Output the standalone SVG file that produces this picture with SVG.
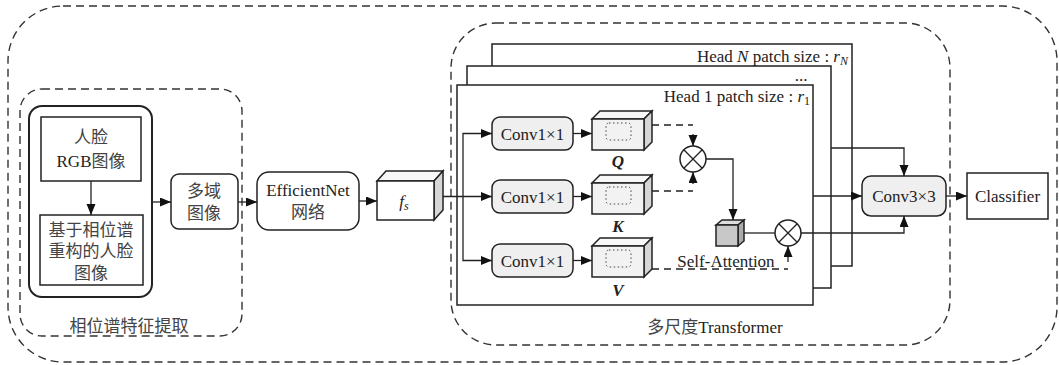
<svg xmlns="http://www.w3.org/2000/svg" width="1059" height="365" viewBox="0 0 1059 365">
<style>
.dash{fill:none;stroke:#333;stroke-width:1.4;stroke-dasharray:8,5}
.box{fill:#fff;stroke:#222;stroke-width:1.5}
.gbox{fill:#efefef;stroke:#222;stroke-width:1.5}
.ln{fill:none;stroke:#222;stroke-width:1.3}
.dl{fill:none;stroke:#222;stroke-width:1.3;stroke-dasharray:7,5}
.t{font-family:"Liberation Serif","Noto Sans CJK SC",serif;font-size:17px;fill:#222;text-anchor:middle}
.cn{font-family:"Liberation Serif","Noto Sans CJK SC",serif;font-size:17px;fill:#444;text-anchor:middle}
.f{fill:#f2f2f2;stroke:#222;stroke-width:1.5}
.s{fill:#d6d6d6;stroke:#222;stroke-width:1.5}
.tp{fill:#f8f8f8;stroke:#222;stroke-width:1.5}
.dot{fill:none;stroke:#444;stroke-width:1;stroke-dasharray:1.5,2.5}
.it{font-style:italic}
.bi{font-style:italic;font-weight:bold}
</style>
<defs>
<marker id="a" markerUnits="userSpaceOnUse" markerWidth="12" markerHeight="10" refX="11" refY="4.5" orient="auto">
<path d="M0,0 L11,4.5 L0,9 z" fill="#111"/>
</marker>
</defs>

<g id="frames">
<rect class="dash" x="8" y="6" width="1049" height="356" rx="55"/>
<rect class="dash" x="20" y="89" width="222" height="247" rx="22"/>
<rect class="dash" x="451" y="23" width="499" height="322" rx="45"/>
<text class="cn" x="129" y="332">相位谱特征提取</text>
<text class="cn" x="715" y="333">多尺度<tspan fill="#222">Transformer</tspan></text>
</g>

<g id="phase-group">
<rect fill="#fff" stroke="#222" stroke-width="2" x="29" y="106" width="123" height="191" rx="13"/>
</g>
<g id="rgb">
<rect class="box" x="41" y="117" width="100" height="64"/>
<text class="cn" x="91" y="143">人脸</text>
<text class="t" x="91" y="167">RGB<tspan fill="#444">图像</tspan></text>
</g>
<g id="recon">
<rect class="box" x="40" y="215" width="103" height="70"/>
<text class="cn" x="91" y="236">基于相位谱</text>
<text class="cn" x="91" y="257">重构的人脸</text>
<text class="cn" x="91" y="279">图像</text>
</g>
<g id="multidomain">
<rect class="box" x="171" y="174" width="67" height="55" rx="8"/>
<text class="cn" x="204" y="197">多域</text>
<text class="cn" x="204" y="219">图像</text>
</g>
<g id="efficientnet">
<rect class="box" x="257" y="172" width="102" height="58" rx="12"/>
<text class="t" x="308" y="196">EfficientNet</text>
<text class="cn" x="308" y="218">网络</text>
</g>
<g id="fs">
<path class="tp" d="M377,181 L386,171 L443,171 L434,181 z"/>
<path class="s" d="M434,181 L443,171 L443,210 L434,220 z"/>
<rect fill="#fff" stroke="#222" stroke-width="1.5" x="377" y="181" width="57" height="39"/>
<text class="t it" x="404" y="207">f<tspan font-size="12" dy="3">s</tspan></text>
</g>

<g id="headN">
<rect class="box" x="492" y="44" width="360" height="222"/>
<text class="t" x="848" y="62" text-anchor="end" style="text-anchor:end">Head <tspan class="it">N</tspan> patch size : <tspan class="it">r</tspan><tspan class="it" font-size="12" dy="3">N</tspan></text>
</g>
<g id="head2">
<rect class="box" x="467" y="66" width="364" height="222"/>
<text class="t" x="801" y="81">...</text>
</g>
<g id="head1">
<rect class="box" x="457" y="85" width="356" height="220"/>
<text class="t" x="810" y="102" style="text-anchor:end">Head 1 patch size : <tspan class="it">r</tspan><tspan font-size="12" dy="3">1</tspan></text>
</g>

<g id="convQ">
<rect class="gbox" x="492" y="117" width="81" height="33" rx="8"/>
<text class="t" x="532.5" y="139.5">Conv1×1</text>
</g>
<g id="convK">
<rect class="gbox" x="492" y="180" width="81" height="33" rx="8"/>
<text class="t" x="532.5" y="202.5">Conv1×1</text>
</g>
<g id="convV">
<rect class="gbox" x="492" y="244" width="81" height="33" rx="8"/>
<text class="t" x="532.5" y="266.5">Conv1×1</text>
</g>

<g id="cubeQ">
<path class="tp" d="M592,119 L600,111 L652,111 L644,119 z"/>
<path class="s" d="M644,119 L652,111 L652,142 L644,150 z"/>
<rect class="f" x="592" y="119" width="52" height="31"/>
<rect class="dot" x="606" y="123" width="25" height="17" rx="3"/>
<text class="t bi" x="618" y="167">Q</text>
</g>
<g id="cubeK">
<path class="tp" d="M592,183 L600,175 L652,175 L644,183 z"/>
<path class="s" d="M644,183 L652,175 L652,206 L644,214 z"/>
<rect class="f" x="592" y="183" width="52" height="31"/>
<rect class="dot" x="606" y="187" width="25" height="17" rx="3"/>
<text class="t bi" x="618" y="232">K</text>
</g>
<g id="cubeV">
<path class="tp" d="M592,246 L600,238 L652,238 L644,246 z"/>
<path class="s" d="M644,246 L652,238 L652,269 L644,277 z"/>
<rect class="f" x="592" y="246" width="52" height="31"/>
<rect class="dot" x="606" y="250" width="25" height="17" rx="3"/>
<text class="t bi" x="618" y="296">V</text>
</g>

<g id="mul1">
<circle cx="693" cy="159" r="13" fill="#fff" stroke="#222" stroke-width="1.5"/>
<path class="ln" d="M683.8,149.8 L702.2,168.2 M702.2,149.8 L683.8,168.2"/>
</g>
<g id="attn">
<path d="M716,225 L722,220 L744,220 L738,225 z" fill="#dedede" stroke="#222" stroke-width="1.5"/>
<path d="M738,225 L744,220 L744,241 L738,246 z" fill="#aaa" stroke="#222" stroke-width="1.5"/>
<rect x="716" y="225" width="22" height="21" fill="#c8c8c8" stroke="#222" stroke-width="1.5"/>
<text class="t" x="726" y="267">Self-Attention</text>
</g>
<g id="mul2">
<circle cx="788" cy="233" r="13" fill="#fff" stroke="#222" stroke-width="1.5"/>
<path class="ln" d="M778.8,223.8 L797.2,242.2 M797.2,223.8 L778.8,242.2"/>
</g>

<g id="conv3">
<rect class="gbox" x="862" y="176" width="84" height="40" rx="9"/>
<text class="t" x="904" y="202">Conv3×3</text>
</g>
<g id="classifier">
<rect class="box" x="967" y="173" width="81" height="46"/>
<text class="t" x="1007.5" y="202">Classifier</text>
</g>

<g id="connectors">
<path class="ln" marker-end="url(#a)" d="M91,181 L91,215"/>
<path class="ln" marker-end="url(#a)" d="M152,202 L171,202"/>
<path class="ln" marker-end="url(#a)" d="M238,202 L257,202"/>
<path class="ln" marker-end="url(#a)" d="M359,201 L377,201"/>
<path class="ln" marker-end="url(#a)" d="M443,196.5 L492,196.5"/>
<path class="ln" marker-end="url(#a)" d="M463,196.5 L463,133.5 L492,133.5"/>
<path class="ln" marker-end="url(#a)" d="M463,196.5 L463,260.5 L492,260.5"/>
<path class="ln" marker-end="url(#a)" d="M573,133.5 L592,133.5"/>
<path class="ln" marker-end="url(#a)" d="M573,196.5 L592,196.5"/>
<path class="ln" marker-end="url(#a)" d="M573,260.5 L592,260.5"/>
<path class="dl" d="M652,125 L693,125"/>
<path class="ln" marker-end="url(#a)" d="M693,134 L693,146"/>
<path class="dl" d="M652,191 L693,191"/>
<path class="ln" marker-end="url(#a)" d="M693,184 L693,172"/>
<path class="ln" marker-end="url(#a)" d="M706,159 L733,159 L733,220"/>
<path class="ln" d="M744,233 L775,233"/>
<path class="dl" d="M652,269 L788,269"/>
<path class="ln" marker-end="url(#a)" d="M788,262 L788,246"/>
<path class="ln" marker-end="url(#a)" d="M801,233 L904,233 L904,216"/>
<path class="ln" marker-end="url(#a)" d="M831,148 L904,148 L904,176"/>
<path class="ln" marker-end="url(#a)" d="M813,196 L862,196"/>
<path class="ln" marker-end="url(#a)" d="M946,196 L967,196"/>
</g>
</svg>
